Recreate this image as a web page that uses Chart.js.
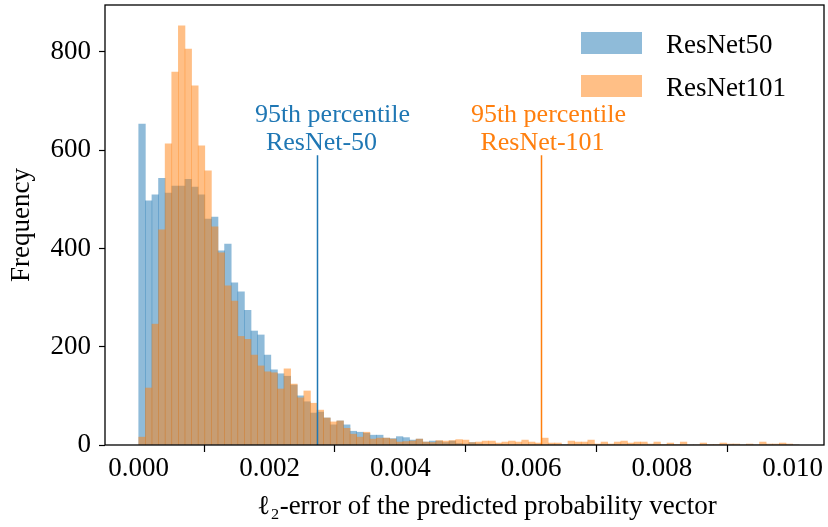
<!DOCTYPE html>
<html>
<head>
<meta charset="utf-8">
<script src="https://cdn.jsdelivr.net/npm/chart.js@4/dist/chart.umd.min.js"></script>
<style>
  html, body { margin: 0; padding: 0; background: #fff; }
  #wrap { width: 828px; height: 527px; }
</style>
</head>
<body>
<div id="wrap"><canvas id="myChart" width="828" height="527"></canvas></div>
<script>
// histogram bins: 100 bins starting at 0
const binStart = 0;
const binWidth = 0.000101;

const resnet50Counts = [
  653, 497, 509, 543, 513, 527, 527, 541, 525, 509,
  460, 464, 395, 409, 330, 312, 274, 232, 224, 183,
  153, 145, 140, 122, 100, 88, 65, 67, 55, 41,
  49, 41, 28, 26, 24, 20, 20, 14, 13, 17,
  15, 10, 12, 6, 8, 8, 5, 8, 3, 2,
  5, 2, 1, 1, 0, 0, 0, 0, 0, 0,
  0, 0, 0, 0, 1, 0, 0, 0, 0, 0,
  0, 0, 0, 0, 0, 0, 0, 0, 0, 0,
  0, 0, 0, 0, 0, 0, 0, 0, 0, 0,
  0, 0, 0, 0, 0, 0, 0, 0, 0, 0
];

const resnet101Counts = [
  16, 116, 246, 438, 613, 759, 853, 806, 731, 609,
  558, 444, 391, 324, 293, 221, 215, 183, 161, 149,
  147, 114, 155, 124, 96, 110, 85, 71, 55, 47,
  49, 34, 22, 16, 26, 12, 14, 14, 12, 6,
  7, 8, 12, 6, 5, 9, 8, 9, 11, 10,
  5, 6, 8, 8, 4, 6, 8, 6, 10, 6,
  4, 14, 4, 4, 0, 8, 6, 6, 10, 2,
  6, 2, 6, 8, 4, 6, 6, 2, 6, 1,
  4, 1, 6, 0, 0, 4, 1, 1, 4, 2,
  2, 0, 2, 0, 6, 2, 2, 4, 2, 0
];

const seriesLabels = ['ResNet50', 'ResNet101'];
const seriesColors = ['rgba(31,119,180,0.5)', 'rgba(255,127,14,0.5)'];
const lineColors = ['#1f77b4', '#ff7f0e'];

// 95th percentile markers
const percentileValues = [0.002725, 0.006159];
const percentileTop = 590;
const percentileTexts = [
  ['95th percentile', 'ResNet-50'],
  ['95th percentile', 'ResNet-101']
];

const xTicks = [0, 0.002, 0.004, 0.006, 0.008, 0.010];
const yTicks = [0, 200, 400, 600, 800];
const xTitle = 'ℓ₂-error of the predicted probability vector';

const FONT = "'Liberation Serif', 'DejaVu Serif', serif";
const FS = 27;

function toPoints(counts) {
  return counts.map((c, i) => ({ x: binStart + (i + 0.5) * binWidth, y: c }));
}

const extras = {
  id: 'extras',
  afterDatasetsDraw(chart) {
    const { ctx, chartArea: a, scales } = chart;
    ctx.save();
    // percentile lines + labels
    const textOffsets = [[15, 4], [7, 1]];
    percentileValues.forEach((v, k) => {
      const px = Math.round(scales.x.getPixelForValue(v)) + 0.5;
      ctx.strokeStyle = lineColors[k];
      ctx.lineWidth = 1.5;
      ctx.beginPath();
      ctx.moveTo(px, scales.y.getPixelForValue(0));
      ctx.lineTo(px, scales.y.getPixelForValue(percentileTop));
      ctx.stroke();
      ctx.fillStyle = lineColors[k];
      ctx.font = (FS - 1) + 'px ' + FONT;
      ctx.textAlign = 'center';
      ctx.textBaseline = 'alphabetic';
      ctx.fillText(percentileTexts[k][0], px + textOffsets[k][0], 122);
      ctx.fillText(percentileTexts[k][1], px + textOffsets[k][1], 150);
    });

    // legend (no frame)
    [0, 1].forEach((k, j) => {
      const y = 32 + j * 43;
      ctx.fillStyle = seriesColors[k];
      ctx.fillRect(581, y, 61, 22);
      ctx.fillStyle = '#000';
      ctx.font = FS + 'px ' + FONT;
      ctx.textAlign = 'left';
      ctx.textBaseline = 'alphabetic';
      ctx.fillText(seriesLabels[k], 666, y + 21);
    });

    // x axis label (sits a little right of the axes centre in the original)
    ctx.fillStyle = '#000';
    ctx.font = FS + 'px ' + FONT;
    ctx.textAlign = 'center';
    ctx.textBaseline = 'middle';
    ctx.fillText(xTitle, 487, 507);

    // box around plot
    ctx.strokeStyle = '#000';
    ctx.lineWidth = 1.3;
    ctx.strokeRect(a.left, a.top, a.right - a.left, a.bottom - a.top);
    ctx.restore();
  }
};

const ctx = document.getElementById('myChart');
const myChart = new Chart(ctx, {
  type: 'bar',
  data: {
    datasets: [{
      label: seriesLabels[0],
      data: toPoints(resnet50Counts),
      backgroundColor: seriesColors[0],
      borderWidth: 0,
      order: 2
    },
    {
      label: seriesLabels[1],
      data: toPoints(resnet101Counts),
      backgroundColor: seriesColors[1],
      borderWidth: 0,
      order: 1
    }]
  },
  options: {
    responsive: false,
    animation: false,
    layout: { padding: { top: 5, right: 4, left: 0, bottom: 0 } },
    datasets: {
      bar: { grouped: false, barPercentage: 1, categoryPercentage: 1 }
    },
    plugins: {
      legend: { display: false },
      tooltip: { enabled: false }
    },
    scales: {
      x: {
        type: 'linear',
        min: -0.000516,
        max: 0.01048,
        offset: false,
        afterBuildTicks: s => { s.ticks = xTicks.map(v => ({ value: v })); },
        afterFit: s => { s.height = 82; s.paddingLeft = 0; s.paddingRight = 0; },
        grid: { drawOnChartArea: false, drawTicks: true, tickLength: 7, tickColor: '#000', tickWidth: 1.2 },
        border: { display: false },
        ticks: {
          color: '#000',
          font: { family: FONT, size: FS },
          padding: 1,
          maxRotation: 0,
          autoSkip: false,
          callback: v => Number(v).toFixed(3)
        },
        title: { display: false, text: xTitle }
      },
      y: {
        min: 0,
        max: 895.6,
        afterBuildTicks: s => { s.ticks = yTicks.map(v => ({ value: v })); },
        afterFit: s => { s.width = 105; s.paddingTop = 0; s.paddingBottom = 0; },
        grid: { drawOnChartArea: false, drawTicks: true, tickLength: 6, tickColor: '#000', tickWidth: 1.2 },
        border: { display: false },
        ticks: {
          color: '#000',
          font: { family: FONT, size: FS },
          padding: 8
        },
        title: {
          display: true,
          text: 'Frequency',
          color: '#000',
          font: { family: FONT, size: FS },
          padding: { top: 6, bottom: 0 }
        }
      }
    }
  },
  plugins: [extras]
});
</script>
</body>
</html>
